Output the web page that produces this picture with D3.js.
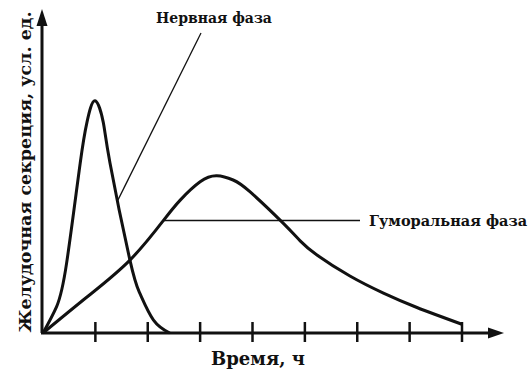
<!DOCTYPE html>
<html>
<head>
<meta charset="utf-8">
<script src="https://cdn.jsdelivr.net/npm/d3@7"></script>
<style>
    body { margin: 0; background: #fff; }
    text { font-family: "DejaVu Serif", serif; font-weight: bold; fill: #111; }
</style>
</head>
<body>
<div id="chart"></div>
<script>
// Time ticks (hours, unlabeled)
const ticks = [1, 2, 3, 4, 5, 6, 7, 8];

// Nervous phase curve: time / secretion (arb. units)
const nervT = [0, 0.26, 0.45, 0.71, 0.84, 0.99, 1.15, 1.28, 1.66, 1.85, 2.11, 2.42];
const nervY = [0, 8.8, 23.2, 56.6, 70.3, 77.4, 70.3, 56.6, 24.3, 13.2, 4.3, 0];

// Humoral phase curve
const humT = [0, 0.84, 1.66, 2.29, 2.62, 3.0, 3.32, 3.63, 3.95, 4.58, 4.91, 5.23, 5.86, 6.5, 7.14, 8];
const humY = [0, 12, 24.3, 37.3, 44.3, 50.4, 52.4, 51, 47.1, 36.7, 30.7, 26, 19, 13.3, 8.5, 2.9];

// Annotation labels
const labels = ['Нервная фаза', 'Гуморальная фаза'];
const xTitle = 'Время, ч';
const yTitle = 'Желудочная секреция, усл. ед.';

const width = 528, height = 374;
const x = d3.scaleLinear().domain([0, 8]).range([43, 462]);
const y = d3.scaleLinear().domain([0, 100]).range([333, 33]);

const svg = d3.select('#chart').append('svg')
    .attr('width', width)
    .attr('height', height);

// Axes with arrowheads
svg.append('line')
    .attr('x1', 42).attr('y1', 333).attr('x2', 42).attr('y2', 22)
    .attr('stroke', '#111').attr('stroke-width', 3);
svg.append('path')
    .attr('d', 'M42,9 L47.5,26 L36.5,26 Z')
    .attr('fill', '#111');
svg.append('line')
    .attr('x1', 41).attr('y1', 333).attr('x2', 492).attr('y2', 333)
    .attr('stroke', '#111').attr('stroke-width', 3);
svg.append('path')
    .attr('d', 'M504,333 L488,327.5 L488,338.5 Z')
    .attr('fill', '#111');

svg.selectAll('line.tick')
    .data(ticks)
    .enter()
    .append('line')
    .attr('class', 'tick')
    .attr('x1', (d) => x(d)).attr('x2', (d) => x(d))
    .attr('y1', 322).attr('y2', 342)
    .attr('stroke', '#111').attr('stroke-width', 2.5);

// Curves
const line = d3.line()
    .x((d) => x(d[0]))
    .y((d) => y(d[1]))
    .curve(d3.curveNatural);

[[nervT, nervY], [humT, humY]].forEach(([t, v]) => {
    svg.append('path')
        .datum(d3.zip(t, v))
        .attr('d', line)
        .attr('fill', 'none')
        .attr('stroke', '#111')
        .attr('stroke-width', 3);
});

// Annotation pointers
svg.append('line')
    .attr('x1', x(1.43)).attr('y1', y(44.3))
    .attr('x2', 201).attr('y2', 33)
    .attr('stroke', '#111').attr('stroke-width', 1.3);
svg.append('line')
    .attr('x1', x(2.3)).attr('y1', y(37.5))
    .attr('x2', 360).attr('y2', y(37.5))
    .attr('stroke', '#111').attr('stroke-width', 1.3);

svg.append('text')
    .attr('x', 214).attr('y', 23)
    .attr('text-anchor', 'middle')
    .style('font-size', '14px')
    .text(labels[0]);
svg.append('text')
    .attr('x', 369).attr('y', 226)
    .style('font-size', '14.5px')
    .text(labels[1]);

// Axis titles
svg.append('text')
    .attr('x', 258).attr('y', 365)
    .attr('text-anchor', 'middle')
    .style('font-size', '18px')
    .text(xTitle);
svg.append('text')
    .attr('transform', 'translate(31,172) rotate(-90)')
    .attr('text-anchor', 'middle')
    .style('font-size', '17.5px')
    .text(yTitle);
</script>
</body>
</html>
